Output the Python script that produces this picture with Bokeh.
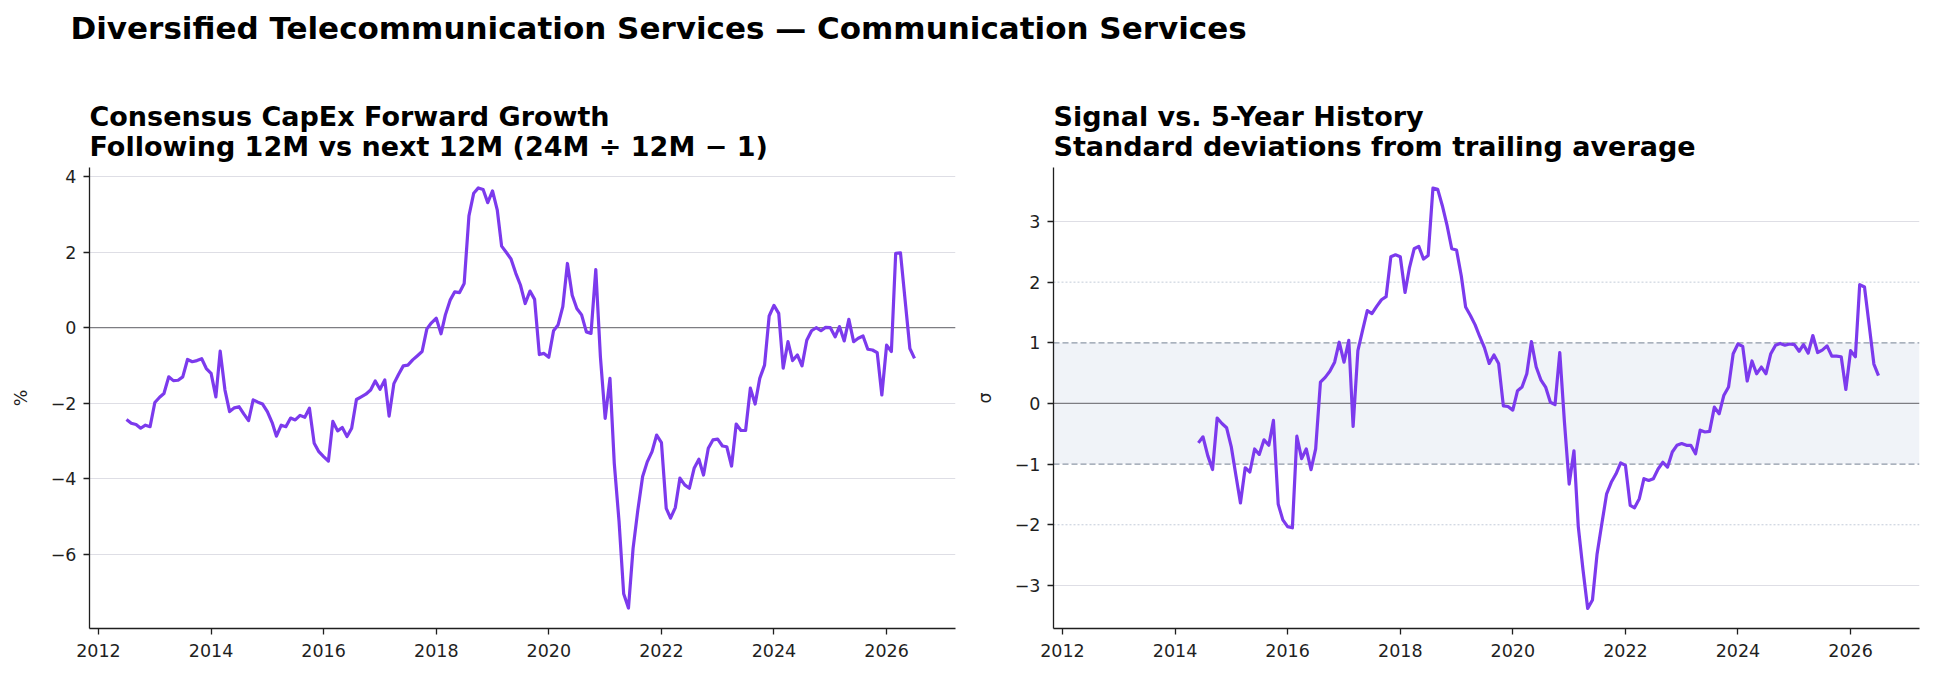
import pandas as pd
from datetime import datetime

from bokeh.plotting import figure
from bokeh.layouts import column, row
from bokeh.models import (Range1d, FixedTicker, DatetimeTickFormatter,
                          CustomJSTickFormatter, Span, BoxAnnotation, Label)
from bokeh.embed import file_html
from bokeh.resources import INLINE

# ---------------------------------------------------------------- data
suptitle = "Diversified Telecommunication Services \u2014 Communication Services"
growth_title = "Consensus CapEx Forward Growth\nFollowing 12M vs next 12M (24M \u00f7 12M \u2212 1)"
signal_title = "Signal vs. 5-Year History\nStandard deviations from trailing average"

growth_start = "2012-07-01"   # monthly observations
growth_pct = [
    -2.43, -2.53, -2.56, -2.66, -2.58, -2.62, -1.98, -1.84, -1.74, -1.30,
    -1.40, -1.39, -1.30, -0.84, -0.90, -0.87, -0.82, -1.08, -1.21, -1.83,
    -0.62, -1.65, -2.22, -2.12, -2.09, -2.28, -2.46, -1.91, -1.97, -2.02,
    -2.22, -2.51, -2.87, -2.58, -2.62, -2.39, -2.44, -2.32, -2.37, -2.13,
    -3.06, -3.28, -3.41, -3.53, -2.48, -2.73, -2.64, -2.88, -2.66, -1.90,
    -1.83, -1.76, -1.65, -1.41, -1.63, -1.38, -2.34, -1.48, -1.24, -1.01,
    -0.99, -0.85, -0.74, -0.63, -0.03, 0.13, 0.25, -0.16, 0.34, 0.73,
    0.95, 0.93, 1.17, 2.96, 3.56, 3.70, 3.66, 3.31, 3.62, 3.11,
    2.16, 1.99, 1.82, 1.44, 1.13, 0.64, 0.97, 0.75, -0.71, -0.68,
    -0.78, -0.08, 0.07, 0.56, 1.70, 0.86, 0.51, 0.34, -0.11, -0.15,
    1.54, -0.77, -2.40, -1.34, -3.59, -5.13, -7.04, -7.42, -5.84, -4.82,
    -3.94, -3.55, -3.28, -2.84, -3.04, -4.78, -5.04, -4.76, -3.98, -4.16,
    -4.25, -3.72, -3.48, -3.90, -3.19, -2.97, -2.95, -3.13, -3.15, -3.66,
    -2.55, -2.72, -2.72, -1.60, -2.02, -1.34, -0.99, 0.31, 0.59, 0.38,
    -1.07, -0.37, -0.87, -0.72, -1.01, -0.33, -0.08, 0.00, -0.08, 0.01,
    0.00, -0.24, 0.03, -0.35, 0.22, -0.37, -0.28, -0.22, -0.57, -0.59,
    -0.66, -1.78, -0.46, -0.63, 1.97, 1.98, 0.73, -0.55, -0.81,
]

signal_start = "2014-06-01"   # monthly observations
signal_sigma = [
    -0.65, -0.55, -0.86, -1.09, -0.24, -0.33, -0.40, -0.72, -1.21, -1.64,
    -1.06, -1.13, -0.75, -0.84, -0.60, -0.69, -0.28, -1.66, -1.92, -2.03,
    -2.05, -0.54, -0.91, -0.75, -1.09, -0.75, 0.35, 0.43, 0.53, 0.68,
    1.01, 0.68, 1.04, -0.38, 0.87, 1.20, 1.53, 1.48, 1.60, 1.71,
    1.76, 2.42, 2.45, 2.42, 1.83, 2.23, 2.55, 2.59, 2.38, 2.44,
    3.55, 3.53, 3.26, 2.93, 2.55, 2.53, 2.10, 1.59, 1.45, 1.30,
    1.10, 0.92, 0.66, 0.80, 0.66, -0.04, -0.05, -0.11, 0.21, 0.27,
    0.49, 1.02, 0.60, 0.39, 0.27, 0.02, -0.02, 0.84, -0.30, -1.33,
    -0.78, -2.03, -2.75, -3.38, -3.24, -2.48, -1.98, -1.49, -1.30, -1.16,
    -0.98, -1.02, -1.68, -1.72, -1.57, -1.24, -1.27, -1.24, -1.08, -0.97,
    -1.05, -0.80, -0.69, -0.66, -0.69, -0.69, -0.83, -0.44, -0.47, -0.46,
    -0.06, -0.17, 0.13, 0.27, 0.82, 0.98, 0.94, 0.37, 0.70, 0.49,
    0.60, 0.49, 0.82, 0.96, 0.99, 0.96, 0.98, 0.97, 0.86, 0.97,
    0.83, 1.12, 0.84, 0.88, 0.95, 0.78, 0.78, 0.77, 0.23, 0.87,
    0.77, 1.96, 1.92, 1.30, 0.65, 0.46,
]

year_ticks = [2012, 2014, 2016, 2018, 2020, 2022, 2024, 2026]
growth_yticks = [-6, -4, -2, 0, 2, 4]
signal_yticks = [-3, -2, -1, 0, 1, 2, 3]
signal_band = (-1, 1)
signal_dotted = [-2, 2]

growth_dates = pd.date_range(growth_start, periods=len(growth_pct), freq="MS")
signal_dates = pd.date_range(signal_start, periods=len(signal_sigma), freq="MS")

# ---------------------------------------------------------------- style
FONT = "DejaVu Sans"
LINE = "#7c3aed"
INK = "#1f1f1f"
GRID = "#dedee5"
ZERO = "#7d7d82"
X0, X1 = datetime(2011, 11, 4), datetime(2027, 3, 24)
PANEL_H = 609
TICK_PX = "17.5px"

tick_ms = [pd.Timestamp(f"{y}-01-01").value // 10**6 for y in year_ticks]
minus_fmt = CustomJSTickFormatter(
    code="return tick < 0 ? '\\u2212' + Math.abs(tick) : String(tick);")


def panel(title, width, left, right, yrange, yticks, ylabel):
    p = figure(width=width, height=PANEL_H, x_axis_type="datetime",
               x_range=Range1d(X0, X1), y_range=Range1d(*yrange),
               toolbar_location=None, output_backend="svg",
               min_border_left=left, min_border_right=right,
               min_border_top=97, min_border_bottom=51)
    p.outline_line_color = None
    p.background_fill_color = "white"
    p.border_fill_color = "white"

    p.title.text = title
    p.title.text_font = FONT
    p.title.text_font_style = "bold"
    p.title.text_font_size = "27px"
    p.title.text_line_height = 0.97
    p.title.text_color = "black"
    p.title.align = "left"
    p.title.standoff = 10

    p.xaxis.ticker = FixedTicker(ticks=tick_ms)
    p.xaxis.formatter = DatetimeTickFormatter(
        years="%Y", months="%Y", days="%Y", hours="%Y", hourmin="%Y",
        minutes="%Y", minsec="%Y", seconds="%Y", milliseconds="%Y",
        microseconds="%Y")
    p.yaxis.ticker = FixedTicker(ticks=yticks)
    p.yaxis.formatter = minus_fmt
    p.yaxis.axis_label = ylabel

    for ax in (p.xaxis, p.yaxis):
        ax.axis_line_color = INK
        ax.axis_line_width = 1.3
        ax.major_tick_line_color = INK
        ax.major_tick_line_width = 1.3
        ax.major_tick_out = 6
        ax.major_tick_in = 0
        ax.minor_tick_line_color = None
        ax.major_label_text_font = FONT
        ax.major_label_text_font_size = TICK_PX
        ax.major_label_text_color = INK
        ax.axis_label_text_font = FONT
        ax.axis_label_text_font_size = TICK_PX
        ax.axis_label_text_font_style = "normal"
        ax.axis_label_text_color = INK
    p.xaxis.major_label_standoff = 9
    p.yaxis.major_label_standoff = 7
    p.yaxis.axis_label_standoff = 17

    p.xgrid.visible = False
    p.ygrid.grid_line_color = GRID
    p.ygrid.grid_line_width = 1
    return p


# ---------------------------------------------------------------- header
header = figure(width=1934, height=70, x_range=Range1d(0, 1934),
                y_range=Range1d(0, 70), toolbar_location=None,
                output_backend="svg", x_axis_location=None,
                y_axis_location=None, min_border=0)
header.outline_line_color = None
header.xgrid.visible = False
header.ygrid.visible = False
header.add_layout(Label(x=70, y=43, text=suptitle, text_font=FONT,
                        text_font_style="bold", text_font_size="31px",
                        text_color="black", text_baseline="middle",
                        text_align="left"))

# ---------------------------------------------------------------- growth panel
p1 = panel(growth_title, 970, 89, 15, (-7.96, 4.24), growth_yticks, "%")
p1.ygrid.ticker = FixedTicker(ticks=growth_yticks)
p1.add_layout(Span(location=0, dimension="width", line_color=ZERO,
                   line_width=1.3, level="underlay"))
p1.line(growth_dates, growth_pct, line_color=LINE, line_width=3.2,
        line_join="round")

# ---------------------------------------------------------------- signal panel
p2 = panel(signal_title, 964, 83, 15, (-3.71, 3.89), signal_yticks, "\u03c3")
p2.ygrid.ticker = FixedTicker(ticks=[t for t in signal_yticks
                                     if abs(t) > 2])
p2.add_layout(BoxAnnotation(bottom=signal_band[0], top=signal_band[1],
                            fill_color="#f0f3f8", fill_alpha=1.0,
                            line_color=None, level="underlay"))
for lvl in signal_dotted:
    p2.add_layout(Span(location=lvl, dimension="width", line_color="#c3ccd9",
                       line_width=1, line_dash="2 2", level="underlay"))
for lvl in signal_band:
    p2.add_layout(Span(location=lvl, dimension="width", line_color="#8f99a8",
                       line_width=1.2, line_dash="6 3", level="underlay"))
p2.add_layout(Span(location=0, dimension="width", line_color=ZERO,
                   line_width=1.3, level="underlay"))
p2.line(signal_dates, signal_sigma, line_color=LINE, line_width=3.2,
        line_join="round")

layout = column(header, row(p1, p2))
open("out.html", "w").write(file_html(layout, INLINE))
